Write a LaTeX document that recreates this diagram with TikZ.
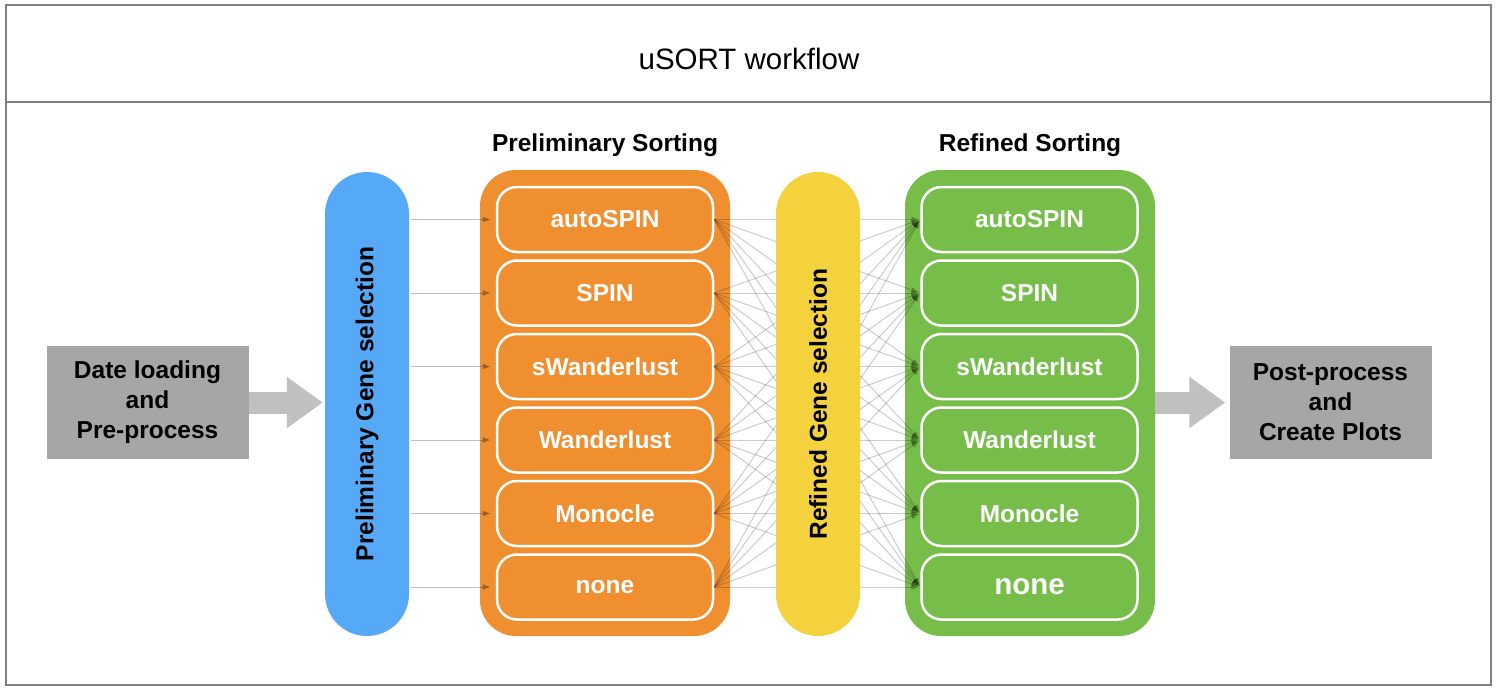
\documentclass[tikz,border=0pt]{standalone}
\usepackage{fontspec}
\setmainfont{Liberation Sans}
\usetikzlibrary{arrows.meta}
\definecolor{barblue}{RGB}{86,169,246}
\definecolor{sortorange}{RGB}{240,143,48}
\definecolor{baryellow}{RGB}{243,210,62}
\definecolor{sortgreen}{RGB}{118,190,73}
\definecolor{boxgray}{RGB}{166,166,166}
\definecolor{arrowgray}{RGB}{192,192,192}
\definecolor{framegray}{RGB}{128,128,128}
\newcommand{\lbl}{\fontsize{24.5}{30}\selectfont\bfseries}
\begin{document}
\begin{tikzpicture}[x=1pt,y=-1pt,
	bar/.style={rounded corners=42pt,minimum width=84pt,minimum height=464pt,inner sep=0pt},
	group/.style={rounded corners=36pt,minimum width=250pt,minimum height=466pt,inner sep=0pt},
	method/.style={draw=white,line width=2.5pt,rounded corners=20pt,minimum width=216pt,
		minimum height=65pt,inner sep=0pt,text=white,font=\lbl},
	stepbox/.style={fill=boxgray,minimum width=202pt,minimum height=113pt,inner sep=0pt,
		align=center,font=\lbl},
	fat/.style={arrowgray,line width=22pt,-{Triangle[length=36pt,width=49pt]}},
	link/.style={black,opacity=.25,line width=1pt,-{Latex[length=8pt,width=6pt]}}]
		\useasboundingbox (0,0) rectangle (1500,696);
		% frame and title
		\draw [framegray,line width=2.5pt] (6,5) rectangle (1491,685);
		\draw [framegray,line width=2.5pt] (6,102) -- (1491,102);
		\node [font=\fontsize{29.5}{35}\selectfont] (title) at (749,59) {uSORT workflow};
		% in and out
		\node [stepbox] (load) at (147.5,402.5) {Date loading\\and\\Pre-process};
		\node [stepbox] (post) at (1330.5,402.5) {Post-process\\and\\Create Plots};
		\node [bar,fill=barblue] (pgs) at (367,404) {};
		\node [rotate=90,font=\lbl] (pgstext) at (pgs) {Preliminary Gene selection};
		% sorting groups
		\node [group,fill=sortorange] (psort) at (605,403) {};
		\node [group,fill=sortgreen] (rsort) at (1030,403) {};
		\node [font=\lbl] (ptitle) at (605,145) {Preliminary Sorting};
		\node [font=\lbl] (rtitle) at (1030,145) {Refined Sorting};
		\foreach \name [count=\i] in {autoSPIN,SPIN,sWanderlust,Wanderlust,Monocle}{
			\node [method] (p\i) at (605,146+73.5*\i) {\name};
			\node [method] (r\i) at (1029.5,146+73.5*\i) {\name};
		}
		\node [method] (p6) at (605,587) {none};
		\node [method,font=\fontsize{29.5}{35}\selectfont\bfseries] (r6) at (1029.5,587) {none};
		% connectors
		\foreach \i in {1,...,6}{
			\draw [link,shorten <=2pt,shorten >=5pt] (pgs.east |- p\i.west) -- (p\i.west);
			\foreach \j in {1,...,6}
				\draw [link,opacity=.2,shorten >=1pt] (p\i.east) -- (r\j.west);
		}
		\node [bar,fill=baryellow] (rgs) at (818,404) {};
		\node [rotate=90,font=\lbl] (rgstext) at (rgs) {Refined Gene selection};
		\draw [fat,shorten >=2pt] (load.east) -- (load.east -| pgs.west);
		\draw [fat,shorten >=4pt] (rsort.east |- post.west) -- (post.west);
\end{tikzpicture}
\end{document}
